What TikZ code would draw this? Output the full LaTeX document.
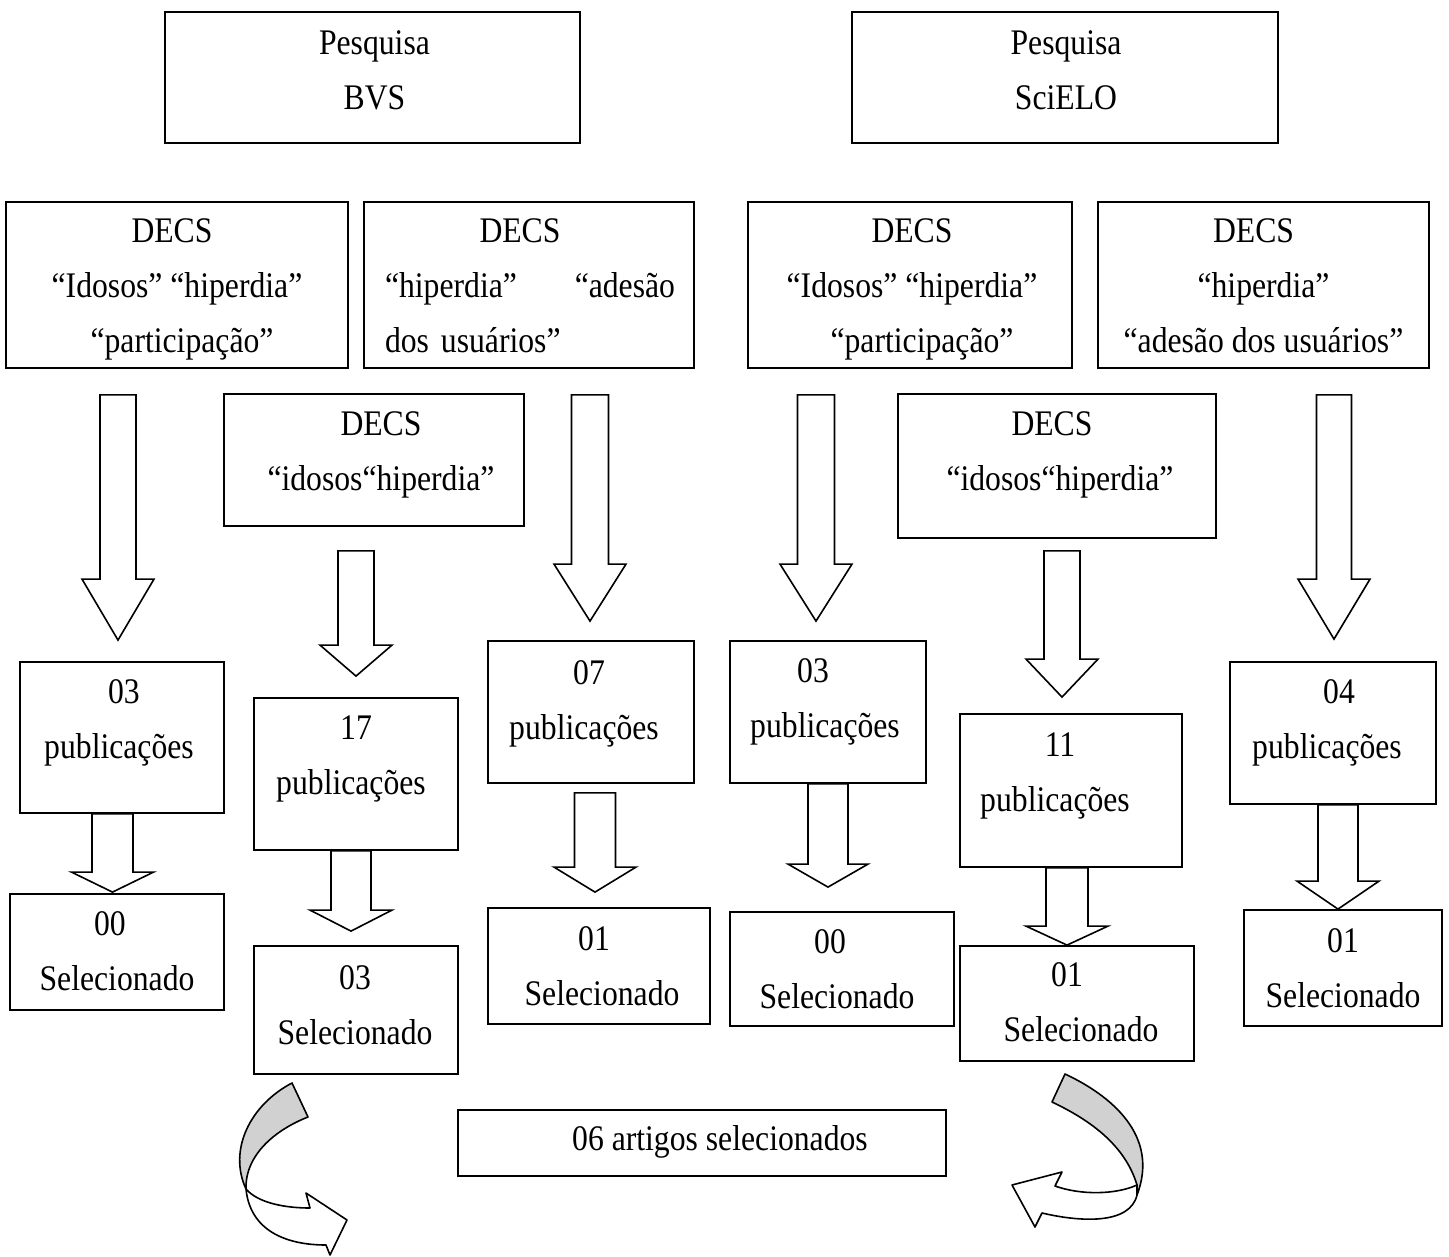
\documentclass[tikz,border=0pt]{standalone}
\usepackage{fontspec}
\setmainfont{Liberation Serif}[FakeStretch=0.88]
\usetikzlibrary{calc}
\newcommand{\fonte}{\fontsize{36}{55}\selectfont}
% seta em bloco: origem, destino, x, folga, folga, meia haste, meia ponta, ponta
\newcommand{\blocoseta}[8]{%
  \draw[seta] let \p1=(#1.south), \p2=(#2.north) in
    ({#3-#6},{\y1-#4pt}) -- ({#3+#6},{\y1-#4pt}) -- ({#3+#6},{\y2+#5pt+#8pt})
    -- ({#3+#7},{\y2+#5pt+#8pt}) -- (#3,{\y2+#5pt}) -- ({#3-#7},{\y2+#5pt+#8pt})
    -- ({#3-#6},{\y2+#5pt+#8pt}) -- cycle;}
\begin{document}
\begin{tikzpicture}[x=1pt,y=-1pt]
  \tikzstyle{caixa}=[draw=black, line width=1.8pt, rectangle, inner sep=0pt]
  \tikzstyle{texto}=[font=\fonte, align=center, inner sep=0pt]
  \tikzstyle{seta}=[draw=black, line width=1.6pt, fill=white, line join=miter]
  \tikzstyle{volta}=[draw=black, line width=1.6pt, line join=round]
  \useasboundingbox (0,0) rectangle (1449,1257);
  \foreach \n/\cx/\cy/\w/\h in {bvs/372.5/77.5/415/131, scielo/1065/77.5/426/131,
      decsA/177/285/342/166, decsB/529/285/330/166, decsC/910/285/324/166,
      decsD/1263.5/285/331/166, decsE/374/460/300/132, decsF/1057/466/318/144,
      pubA/122/737.5/204/151, pubB/356/774/204/152, pubC/591/712/206/142,
      pubD/828/712/196/142, pubE/1071/790.5/222/153, pubF/1333/733/206/142,
      selA/117/952/214/116, selB/356/1010/204/128, selC/599/966/222/116,
      selD/842/969/224/114, selE/1077/1003.5/234/115, selF/1343/968/198/116,
      total/702/1143/488/66} {
    \node[caixa, minimum width=\w pt, minimum height=\h pt] (\n) at (\cx,\cy) {};
  }
  \foreach \n/\dx/\dy/\t in {bvs/2/-7/{Pesquisa\\BVS}, scielo/1/-7/{Pesquisa\\SciELO},
      decsA/0/4/{DECS\hspace*{10pt}\\“Idosos” “hiperdia”\\\hspace*{10pt}“participação”},
      decsC/2/4/{DECS\\“Idosos” “hiperdia”\\\hspace*{20pt}“participação”},
      decsD/0/1/{DECS\hspace*{20pt}\\“hiperdia”\hspace*{26pt}\\“adesão dos usuários”},
      decsE/7/-5/{DECS\\“idosos“hiperdia”}, decsF/3/-11/{DECS\hspace*{16pt}\\“idosos“hiperdia”},
      pubA/-3/-15/{\hspace*{10pt}03\\publicações}, pubB/-5/-15/{\hspace*{10pt}17\\publicações},
      pubC/-7/-8/{\hspace*{10pt}07\\publicações}, pubD/-3/-10/{03\hspace*{24pt}\\publicações},
      pubE/-16/-15/{\hspace*{10pt}11\\publicações}, pubF/-6/-10/{\hspace*{24pt}04\\publicações},
      selA/0/-1/{00\hspace*{14pt}\\Selecionado}, selB/-1/-5/{03\\Selecionado},
      selC/3/0/{01\hspace*{16pt}\\Selecionado}, selD/-5/0/{00\hspace*{14pt}\\Selecionado},
      selE/4/-1/{01\hspace*{28pt}\\Selecionado}, selF/0/0/{01\\Selecionado},
      total/18/-1/{06 artigos selecionados}} {
    \node[texto] (t\n) at ($(\n)+(\dx,\dy)$) {\t};
  }
  \node[texto, text width=290pt] (tdecsB) at ($(decsB)+(1,1)$)
    {DECS\hspace{20pt}\mbox{}\\“hiperdia”\hfill“adesão\\\mbox{dos usuários”}\hfill\mbox{}};
  \foreach \ori/\dst/\sx/\fa/\fb/\hs/\hp/\cp in {decsA/pubA/118/26/21/18/36/61,
      decsE/pubB/356/24/21/18/36/31, decsB/pubC/590/26/19/18.5/36/57,
      decsC/pubD/816/26/19/18.5/36/57, decsF/pubE/1062/12/16/18/36/38,
      decsD/pubF/1334/26/22/17.5/36/60,
      pubA/selA/112.5/0/1/20.5/41/20, pubB/selB/351/0/14/20/41/21,
      pubC/selC/595/9/15/20.5/41/25, pubD/selD/828/0/24/20/40/23,
      pubE/selE/1067/0/0/21/41/19, pubF/selF/1338/0/0/20/41/28} {
    \blocoseta{\ori}{\dst}{\sx}{\fa}{\fb}{\hs}{\hp}{\cp}
  }
  \filldraw[volta, fill=black!18] (292,1083) -- (308,1117)
    .. controls (275,1130) and (245,1155) .. (246,1189)
    .. controls (228,1150) and (250,1105) .. (292,1083) -- cycle;
  \filldraw[volta, fill=white] (246,1189) .. controls (258,1203) and (285,1208) .. (310,1208)
    -- (306,1193) -- (347,1220) -- (330,1255) -- (326,1245)
    .. controls (285,1245) and (250,1230) .. (246,1189) -- cycle;
  \filldraw[volta, fill=black!18] (1065,1074) .. controls (1110,1095) and (1160,1135) .. (1137,1195)
    -- (1137,1185) .. controls (1125,1145) and (1090,1120) .. (1052,1102) -- cycle;
  \filldraw[volta, fill=white] (1137,1185) .. controls (1115,1195) and (1080,1195) .. (1055,1186)
    -- (1062,1172) -- (1012,1185) -- (1035,1227) -- (1042,1213)
    .. controls (1080,1222) and (1130,1225) .. (1137,1195) -- cycle;
\end{tikzpicture}
\end{document}
